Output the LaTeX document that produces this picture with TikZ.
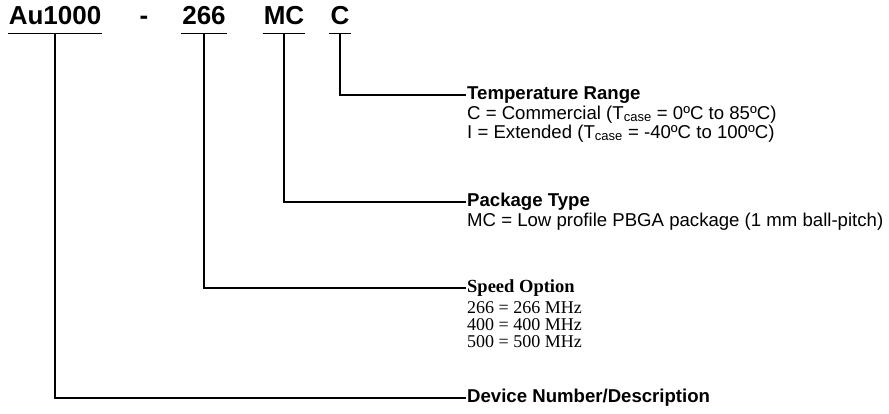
\documentclass[tikz,border=0pt]{standalone}
\usepackage{fontspec}
\setmainfont{Liberation Sans}
\newfontfamily\serifpart{Liberation Serif}
\usetikzlibrary{positioning}
\tikzset{
  partno/.style={font=\fontsize{26}{30}\selectfont\bfseries, anchor=base,
    inner xsep=1pt, inner ysep=8pt},
  uline/.style={line width=1.6pt},
  conn/.style={line width=1.6pt},
  heading/.style={font=\fontsize{18.6}{20}\selectfont\bfseries, anchor=west,
    inner sep=1pt},
  bodytext/.style={font=\fontsize{18.6}{19}\selectfont, align=left,
    anchor=north west, inner sep=1pt},
  sheading/.style={font=\fontsize{18.5}{20}\selectfont\serifpart\bfseries,
    anchor=west, inner sep=1pt},
  sbodytext/.style={font=\fontsize{18}{17}\selectfont\serifpart, align=left,
    anchor=north west, inner sep=1pt}
}

\begin{document}
\begin{tikzpicture}[x=1pt, y=-1pt]
  \useasboundingbox (0,0) rectangle (889,414);
  % part number fields
  \node[partno] (au) at (55,25) {Au1000};
  \node[partno] (dash) at (144,25) {-};
  \node[partno] (spd) at (204,25) {266};
  \node[partno] (pkg) at (284,25) {MC};
  \node[partno] (tmp) at (340,25) {C};
  \foreach \f in {au,spd,pkg,tmp}
    \draw[uline] (\f.south west) -- (\f.south east);
  % descriptions
  \node[heading] (tmpH) at (466,95) {Temperature Range};
  \node[bodytext] (tmpB) at (tmpH.south west) {C = Commercial (T\textsubscript{case} = 0ºC to 85ºC)\\
    I = Extended (T\textsubscript{case} = -40ºC to 100ºC)};
  \node[heading] (pkgH) at (466,202) {Package Type};
  \node[bodytext] (pkgB) at (pkgH.south west) {MC = Low profile PBGA package (1 mm ball-pitch)};
  \node[sheading] (spdH) at (466,288) {Speed Option};
  \node[sbodytext] (spdB) at ([yshift=-3pt]spdH.south west) {266 = 266 MHz\\ 400 = 400 MHz\\ 500 = 500 MHz};
  \node[heading] (auH) at (466,398) {Device Number/Description};
  % connectors
  \draw[conn] (tmp.south) |- (tmpH.west);
  \draw[conn] (pkg.south) |- (pkgH.west);
  \draw[conn] (spd.south) |- (spdH.west);
  \draw[conn] (au.south) |- (auH.west);
\end{tikzpicture}
\end{document}
